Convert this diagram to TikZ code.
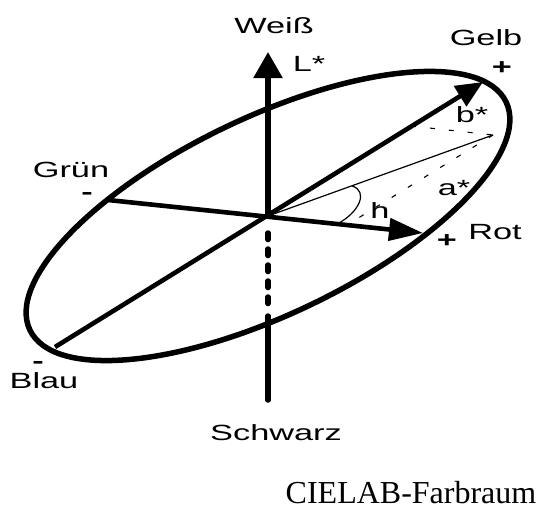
\documentclass[tikz,border=0pt]{standalone}
\usepackage{fontspec}
\usepackage{tikz}
\usetikzlibrary{arrows.meta}
\newfontfamily\labfont[FakeStretch=1.56]{Liberation Sans}
\newfontfamily\capfont{Liberation Serif}

\begin{document}
\begin{tikzpicture}[x=1pt, y=-1pt,
    every node/.style={font=\labfont\fontsize{22}{26}\selectfont, inner sep=0pt, anchor=base},
    axisline/.style={line width=5.5pt},
    vecline/.style={line width=4.6pt},
    thinline/.style={line width=1.2pt},
    guide/.style={line width=1.1pt, dash pattern=on 5pt off 14pt},
    sign/.style={font=\labfont\bfseries\fontsize{22}{26}\selectfont}]
    \useasboundingbox (0,0) rectangle (538,514);

    % Punkte im Farbraum
    \coordinate (O) at (268,216);
    \coordinate (weissend) at (268,52);
    \coordinate (dashtop) at (268,233);
    \coordinate (dashbot) at (268,305);
    \coordinate (lowtop) at (268,316);
    \coordinate (schwarzend) at (268,400);
    \coordinate (gelbend) at (483,82);
    \coordinate (blauend) at (55,347);
    \coordinate (gruenend) at (108,200);
    \coordinate (rotend) at (423,233);
    \coordinate (P) at (493,135);
    \coordinate (bfoot) at (411,126);
    \coordinate (afoot) at (347,225);
    \coordinate (hstart) at (352,186);
    \coordinate (hend) at (337,224);

    % Ellipse und Achsen
    \draw[axisline, rotate around={25.6:(O)}] (O) ellipse [x radius=264pt, y radius=98.5pt];
    \draw[axisline, -{Triangle[length=26pt, width=28pt]}] (O) -- (weissend);
    \draw[axisline, line cap=round, dash pattern=on 6.5pt off 9.5pt] (dashtop) -- (dashbot);
    \draw[axisline, line cap=round] (lowtop) -- (schwarzend);
    \draw[vecline, -{Triangle[length=27pt, width=23pt]}] (blauend) -- (gelbend);
    \draw[vecline, -{Triangle[length=34pt, width=22pt]}] (gruenend) -- (rotend);

    % Farbort, Projektionen, Winkel h
    \draw[thinline] (O) -- (P);
    \draw[guide] (bfoot) -- (P);
    \draw[guide] (P) -- (afoot);
    \draw[thinline] (hstart) .. controls (369,191) and (359,213) .. (hend);

    % Beschriftung
    \node (weiss) at (274,33) {Weiß};
    \node (lstar) at (309,71) {L*};
    \node (gelb) at (486,45) {Gelb};
    \node[sign] (gelbplus) at (502,74.5) {+};
    \node (bstar) at (472,122) {b*};
    \node (astar) at (454,195) {a*};
    \node (hlab) at (380,218) {h};
    \node[sign] (rotplus) at (447,247.5) {+};
    \node (rot) at (495,239) {Rot};
    \node (gruen) at (71,177) {Grün};
    \node[sign] (gruenminus) at (87,199) {-};
    \node[sign] (blauminus) at (38,368) {-};
    \node (blau) at (44,388) {Blau};
    \node (schwarz) at (276,440) {Schwarz};
    \node[font=\capfont\fontsize{32}{37}\selectfont] (title) at (411,503) {CIELAB-Farbraum};
\end{tikzpicture}
\end{document}
